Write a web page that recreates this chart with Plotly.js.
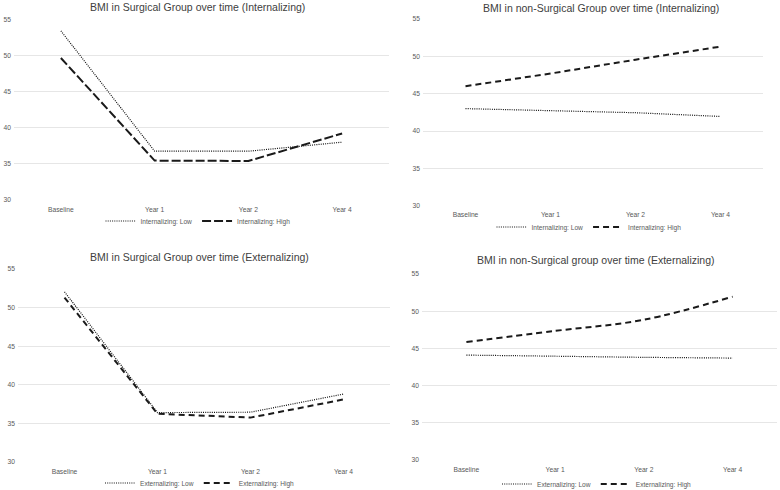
<!DOCTYPE html>
<html>
<head>
<meta charset="utf-8">
<script src="https://cdn.plot.ly/plotly-3.0.1.min.js"></script>
<style>html,body{margin:0;padding:0;background:#fff;}#chart{width:780px;height:490px;}</style>
</head>
<body>
<div id="chart"></div>
<script>
const categories = ['Baseline', 'Year 1', 'Year 2', 'Year 4'];
const yTicks = [30, 35, 40, 45, 50, 55];

const surgIntLow = [53.4, 36.75, 36.75, 38.0];
const surgIntHigh = [49.65, 35.45, 35.4, 39.2];
const nonSurgIntLow = [43.0, 42.75, 42.45, 41.95];
const nonSurgIntHigh = [46.0, 47.7, 49.55, 51.3];
const surgExtLow = [52.05, 36.4, 36.45, 38.8];
const surgExtHigh = [51.3, 36.25, 35.75, 38.1];
const nonSurgExtLow = [44.1, 43.95, 43.8, 43.7];
const nonSurgExtHigh = [45.85, 47.35, 48.85, 51.95];

const titles = [
  'BMI in Surgical Group over time (Internalizing)',
  'BMI in non-Surgical Group over time (Internalizing)',
  'BMI in Surgical Group over time (Externalizing)',
  'BMI in non-Surgical group over time (Externalizing)'
];
const intNames = ['Internalizing: Low', 'Internalizing: High'];
const extNames = ['Externalizing: Low', 'Externalizing: High'];

const FONT = 'Arial, "Liberation Sans", sans-serif';
const W = 780, H = 490;
const dotLine = {color: '#111111', width: 1.2, dash: '1px,1.2px'};

function tr(y, name, ax, leg, line, shape) {
  return {
    x: categories, y: y, name: name, type: 'scatter', mode: 'lines',
    xaxis: 'x' + ax, yaxis: 'y' + ax, legend: leg,
    line: Object.assign({shape: shape || 'linear'}, line),
    hoverinfo: 'x+y+name'
  };
}

const data = [
  tr(surgIntLow, intNames[0], '', 'legend', dotLine),
  tr(surgIntHigh, intNames[1], '', 'legend', {color: '#1a1a1a', width: 2, dash: '9px,3px'}),
  tr(nonSurgIntLow, intNames[0], '2', 'legend2', dotLine),
  tr(nonSurgIntHigh, intNames[1], '2', 'legend2', {color: '#1a1a1a', width: 2, dash: '6px,4px'}),
  tr(surgExtLow, extNames[0], '3', 'legend3', dotLine),
  tr(surgExtHigh, extNames[1], '3', 'legend3', {color: '#1a1a1a', width: 2, dash: '6px,4px'}),
  tr(nonSurgExtLow, extNames[0], '4', 'legend4', dotLine, 'spline'),
  tr(nonSurgExtHigh, extNames[1], '4', 'legend4', {color: '#1a1a1a', width: 2, dash: '6px,4px'}, 'spline')
];

// pixel boxes [left, right, top, bottom]
const boxes = [
  [14, 389, 19.3, 200],
  [423, 763, 19, 205.7],
  [18, 390, 269, 462],
  [422, 777, 274, 460]
];

function xax(b) {
  return {
    domain: [b[0] / W, b[1] / W], range: [-0.5, 3.5], type: 'category',
    showgrid: false, zeroline: false, showline: false, ticks: '', ticklabelstandoff: 4,
    tickfont: {family: FONT, size: 6.7, color: '#595959'}, fixedrange: true
  };
}
function yax(b) {
  return {
    domain: [1 - b[3] / H, 1 - b[2] / H], range: [30, 55], tickvals: yTicks,
    showgrid: true, gridcolor: '#e6e6e6', gridwidth: 1, zeroline: false,
    showline: false, ticks: '', ticklabelstandoff: 2,
    tickfont: {family: FONT, size: 6.7, color: '#595959'}, fixedrange: true
  };
}

function leg(cx, cy) {
  return {
    orientation: 'h', x: cx / W, y: 1 - cy / H, xanchor: 'center', yanchor: 'middle',
    font: {family: FONT, size: 6.6, color: '#595959'}, bgcolor: 'rgba(0,0,0,0)',
    itemwidth: 30, tracegroupgap: 0
  };
}

const titlePos = [[197, 7], [601, 8], [200, 257], [596, 260]];
const annotations = titles.map((t, i) => ({
  text: t, xref: 'paper', yref: 'paper', x: titlePos[i][0] / W, y: 1 - titlePos[i][1] / H,
  xanchor: 'center', yanchor: 'middle', showarrow: false,
  font: {family: FONT, size: 10.5, color: '#404040'}
}));

const layout = {
  width: W, height: H, margin: {l: 0, r: 0, t: 0, b: 0, autoexpand: false},
  paper_bgcolor: '#ffffff', plot_bgcolor: '#ffffff',
  showlegend: true,
  xaxis: xax(boxes[0]), yaxis: yax(boxes[0]),
  xaxis2: Object.assign(xax(boxes[1]), {anchor: 'y2'}), yaxis2: Object.assign(yax(boxes[1]), {anchor: 'x2'}),
  xaxis3: Object.assign(xax(boxes[2]), {anchor: 'y3'}), yaxis3: Object.assign(yax(boxes[2]), {anchor: 'x3'}),
  xaxis4: Object.assign(xax(boxes[3]), {anchor: 'y4'}), yaxis4: Object.assign(yax(boxes[3]), {anchor: 'x4'}),
  legend: leg(198, 221),
  legend2: leg(589, 227),
  legend3: leg(200, 483),
  legend4: leg(597, 484),
  annotations: annotations
};

Plotly.newPlot('chart', data, layout, {displayModeBar: false, staticPlot: true});
</script>
</body>
</html>
